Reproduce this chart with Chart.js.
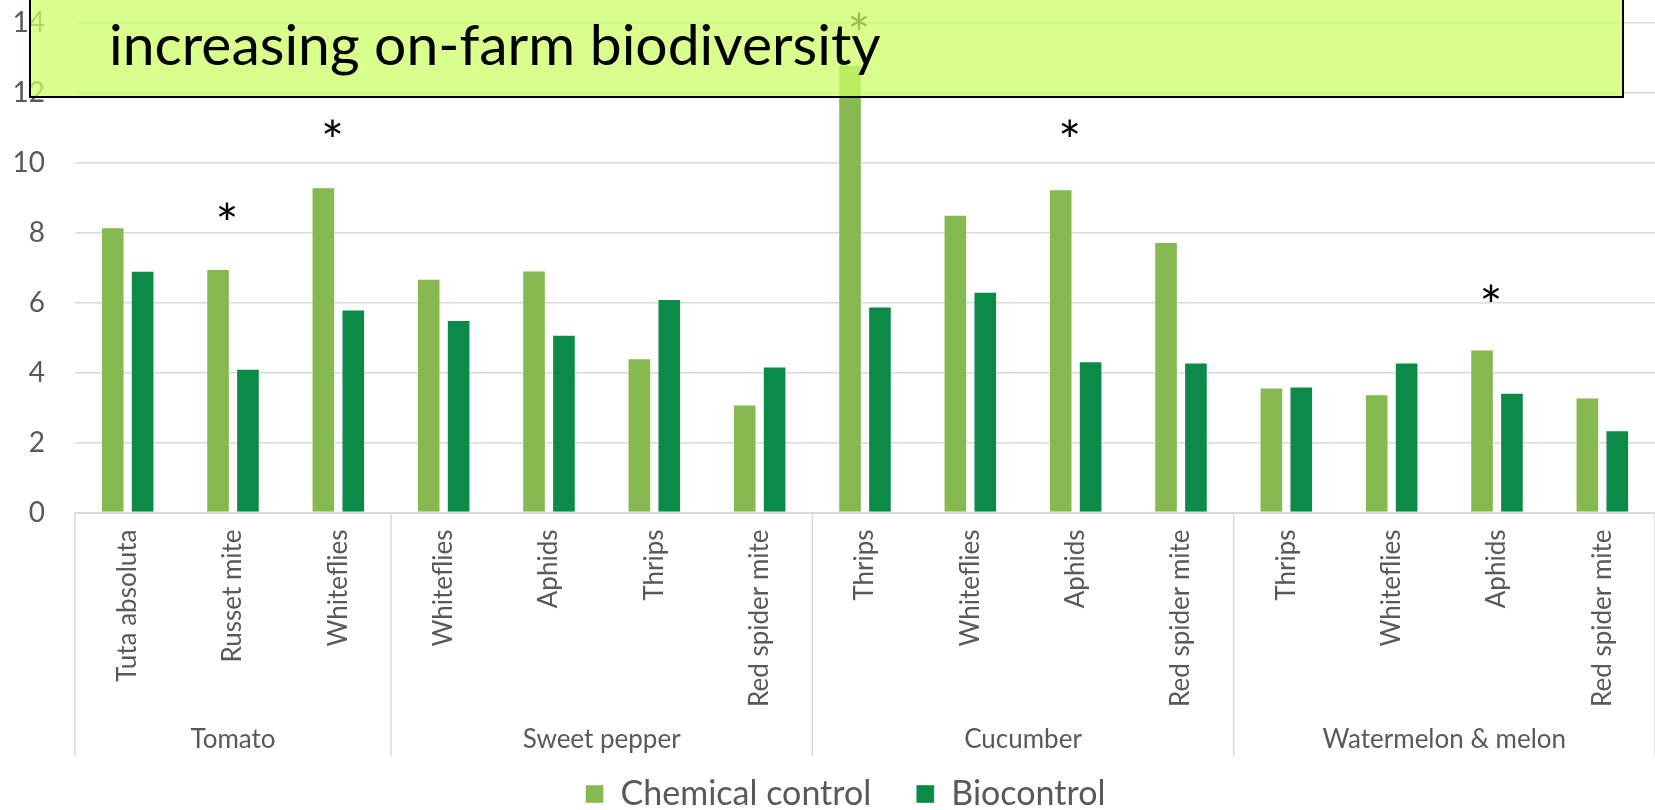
<!DOCTYPE html>
<html>
<head>
<meta charset="utf-8">
<script src="https://cdn.jsdelivr.net/npm/chart.js@4"></script>
<style>
  html, body { margin: 0; padding: 0; background: #fff; overflow: hidden; }
  #wrap { position: relative; width: 1655px; height: 810px; }
  #titleBox {
    position: absolute; left: 29px; top: -60px; width: 1591px; height: 154px;
    background: rgba(204, 255, 102, 0.75); border: 2px solid #000;
  }
  #titleBox span {
    position: absolute; left: 78px; top: 73px;
    font-family: Lato, sans-serif; font-size: 57px; line-height: 1; color: #000;
    white-space: nowrap;
  }
</style>
</head>
<body>
<div id="wrap">
  <canvas id="grafico" width="1655" height="810"></canvas>
  <div id="titleBox"><span>increasing on-farm biodiversity</span></div>
</div>
<script>
// Datos
const pests = ["Tuta absoluta", "Russet mite", "Whiteflies",
  "Whiteflies", "Aphids", "Thrips", "Red spider mite",
  "Thrips", "Whiteflies", "Aphids", "Red spider mite",
  "Thrips", "Whiteflies", "Aphids", "Red spider mite"];
const crops = ["Tomato", "Sweet pepper", "Cucumber", "Watermelon & melon"];
const cropSizes = [3, 4, 4, 4];
const chemical = [8.15, 6.96, 9.30, 6.68, 6.92, 4.41, 3.09, 12.8, 8.51, 9.24, 7.73, 3.57, 3.38, 4.66, 3.29];
const biocontrol = [6.91, 4.11, 5.80, 5.50, 5.08, 6.10, 4.17, 5.89, 6.31, 4.32, 4.29, 3.60, 4.29, 3.42, 2.35];
// altura de los asteriscos de significancia (null = sin marca)
const sigMarks = [null, 8.56, 10.93, null, null, null, null, 13.99, null, 10.93, null, null, null, 6.21, null];
const yTicks = [0, 2, 4, 6, 8, 10, 12, 14];

const verdeClaro = "#86B94F";
const verdeOscuro = "#0B8A48";
const gris = "#595959";
const lineaGris = "#d9d9d9";
const fuente = "Lato, sans-serif";

// Asteriscos, separadores y nombres de cultivo
const capaGrupos = {
  id: "capaGrupos",
  afterLayout(chart) {
    // la leyenda original está algo desplazada a la derecha
    chart.legend.left += 17;
    chart.legend.right += 17;
  },
  afterDatasetsDraw(chart) {
    const { ctx, scales: { y } } = chart;
    const meta = chart.getDatasetMeta(0);
    ctx.save();
    ctx.fillStyle = "#000";
    ctx.font = "54px " + fuente;
    ctx.textAlign = "center";
    ctx.textBaseline = "alphabetic";
    sigMarks.forEach((v, i) => {
      if (v === null) return;
      ctx.fillText("*", meta.data[i].x + 9, y.getPixelForValue(v) + 30);
    });
    ctx.restore();
  },
  afterDraw(chart) {
    const { ctx, scales: { x } } = chart;
    const top = chart.chartArea.bottom;
    ctx.save();
    ctx.strokeStyle = lineaGris;
    ctx.lineWidth = 1.5;
    ctx.fillStyle = gris;
    ctx.font = "26px " + fuente;
    ctx.textAlign = "center";
    ctx.textBaseline = "middle";
    let inicio = 0;
    cropSizes.forEach((n, g) => {
      const x0 = x.getPixelForValue(inicio - 0.5);
      ctx.beginPath();
      ctx.moveTo(x0, top);
      ctx.lineTo(x0, 756);
      ctx.stroke();
      ctx.fillText(crops[g], x.getPixelForValue(inicio + n / 2 - 0.5), 740);
      inicio += n;
    });
    const xf = x.getPixelForValue(inicio - 0.5);
    ctx.beginPath();
    ctx.moveTo(xf, top);
    ctx.lineTo(xf, 756);
    ctx.stroke();
    ctx.restore();
  }
};

new Chart(document.getElementById("grafico"), {
  type: "bar",
  data: {
    labels: pests,
    datasets: [{
      label: "Chemical control",
      data: chemical,
      backgroundColor: verdeClaro,
      borderColor: "rgba(255,255,255,0.45)",
      borderWidth: 1,
      barPercentage: 0.79,
      categoryPercentage: 0.568
    }, {
      label: "Biocontrol",
      data: biocontrol,
      backgroundColor: verdeOscuro,
      borderColor: "rgba(255,255,255,0.35)",
      borderWidth: 1,
      barPercentage: 0.79,
      categoryPercentage: 0.568
    }]
  },
  options: {
    responsive: false,
    animation: false,
    layout: { padding: { top: 22.7, right: -2, bottom: -11, left: 0 } },
    plugins: {
      tooltip: { enabled: false },
      legend: {
        position: "bottom",
        labels: {
          boxWidth: 18,
          boxHeight: 18,
          padding: 45,
          color: gris,
          font: { family: fuente, size: 34 }
        }
      }
    },
    scales: {
      x: {
        grid: { display: false, drawTicks: false },
        border: { display: true, color: lineaGris, width: 2 },
        ticks: {
          color: gris,
          font: { family: fuente, size: 26 },
          minRotation: 90,
          maxRotation: 90,
          autoSkip: false,
          padding: 17
        },
        afterFit(scale) { scale.height = 219.5; }
      },
      y: {
        min: 0,
        max: 14,
        afterBuildTicks(scale) { scale.ticks = yTicks.map(v => ({ value: v })); },
        grid: { color: lineaGris, lineWidth: 1.5, drawTicks: true, tickLength: 30, tickColor: "rgba(0,0,0,0)" },
        border: { display: false },
        ticks: {
          color: gris,
          font: { family: fuente, size: 28 },
          padding: 0
        },
        afterFit(scale) { scale.width = 75; }
      }
    }
  },
  plugins: [capaGrupos]
});
</script>
</body>
</html>
